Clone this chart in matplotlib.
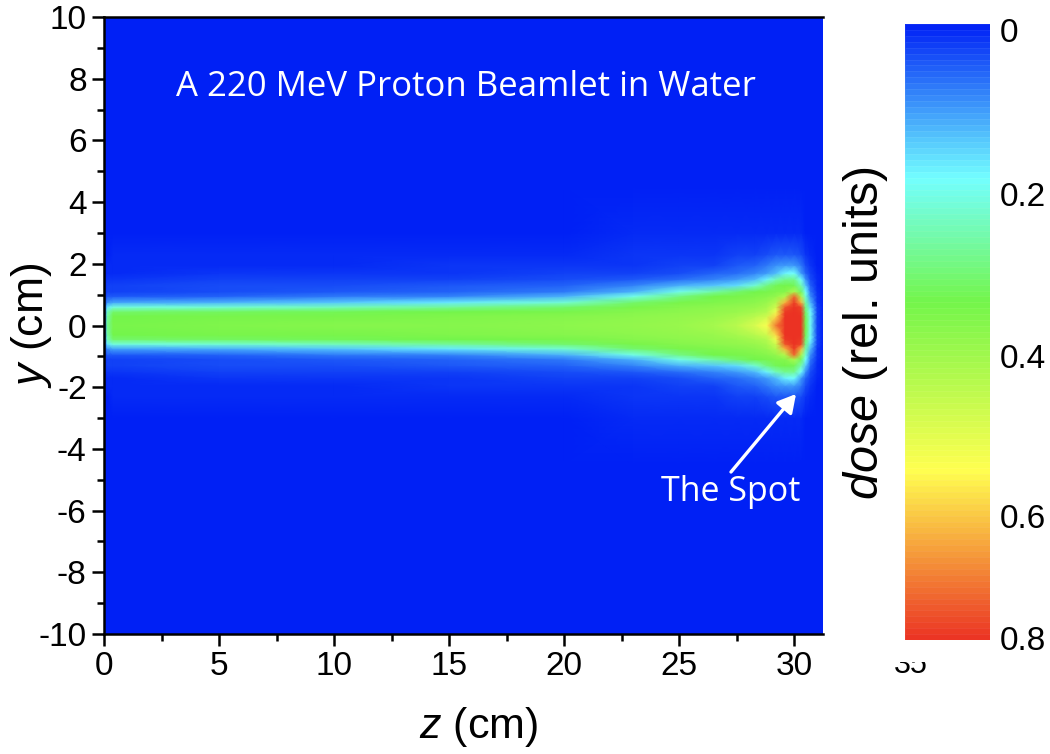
import matplotlib
matplotlib.use("Agg")
import matplotlib.pyplot as plt
import numpy as np
from matplotlib.colors import LinearSegmentedColormap
from matplotlib.transforms import Bbox

W, H = 1050, 754

# Dose: rows are |y| (cm), columns are z (cm)
z_cm = [0.0, 0.15, 0.4, 5, 10, 15, 20, 23, 25, 26.5, 27.5, 28.3, 28.8, 29.2, 29.6, 30.0, 30.3, 30.5, 30.7, 31.0, 31.25]
y_abs = [0.0, 0.3, 0.45, 0.6, 0.75, 0.95, 1.1, 1.3, 1.5, 1.7, 1.95, 2.3, 3.0, 4.5, 10.0]
dose_rows = [
    [0.05, 0.30, 0.37, 0.38, 0.39, 0.39, 0.40, 0.41, 0.42, 0.44, 0.47, 0.52, 0.57, 0.72, 0.80, 0.80, 0.80, 0.36, 0.21, 0.03, 0.00],
    [0.05, 0.28, 0.36, 0.37, 0.37, 0.38, 0.39, 0.40, 0.41, 0.42, 0.44, 0.47, 0.50, 0.62, 0.80, 0.80, 0.80, 0.35, 0.21, 0.03, 0.00],
    [0.045, 0.26, 0.33, 0.34, 0.35, 0.36, 0.37, 0.39, 0.40, 0.41, 0.42, 0.44, 0.46, 0.55, 0.79, 0.80, 0.79, 0.33, 0.20, 0.03, 0.00],
    [0.04, 0.18, 0.23, 0.24, 0.26, 0.29, 0.33, 0.37, 0.39, 0.40, 0.41, 0.42, 0.44, 0.50, 0.76, 0.80, 0.78, 0.31, 0.17, 0.03, 0.00],
    [0.03, 0.10, 0.12, 0.13, 0.15, 0.18, 0.24, 0.33, 0.37, 0.38, 0.39, 0.40, 0.42, 0.46, 0.66, 0.79, 0.66, 0.28, 0.14, 0.02, 0.00],
    [0.02, 0.05, 0.05, 0.06, 0.08, 0.09, 0.13, 0.22, 0.31, 0.36, 0.37, 0.38, 0.39, 0.41, 0.46, 0.74, 0.45, 0.24, 0.10, 0.02, 0.00],
    [0.015, 0.03, 0.03, 0.04, 0.05, 0.06, 0.08, 0.13, 0.22, 0.28, 0.33, 0.36, 0.37, 0.38, 0.39, 0.45, 0.34, 0.20, 0.08, 0.015, 0.00],
    [0.01, 0.03, 0.03, 0.04, 0.04, 0.05, 0.06, 0.09, 0.13, 0.15, 0.17, 0.24, 0.31, 0.35, 0.36, 0.35, 0.27, 0.15, 0.06, 0.01, 0.00],
    [0.01, 0.02, 0.02, 0.03, 0.03, 0.03, 0.04, 0.05, 0.07, 0.09, 0.11, 0.14, 0.19, 0.26, 0.30, 0.30, 0.20, 0.10, 0.04, 0.01, 0.00],
    [0.00, 0.01, 0.01, 0.02, 0.02, 0.02, 0.03, 0.03, 0.04, 0.06, 0.07, 0.09, 0.11, 0.14, 0.19, 0.20, 0.11, 0.06, 0.03, 0.005, 0.00],
    [0.00, 0.01, 0.01, 0.01, 0.01, 0.02, 0.02, 0.02, 0.03, 0.03, 0.05, 0.06, 0.08, 0.10, 0.11, 0.11, 0.08, 0.04, 0.02, 0.00, 0.00],
    [0.00, 0.00, 0.01, 0.01, 0.01, 0.01, 0.01, 0.02, 0.02, 0.02, 0.03, 0.03, 0.04, 0.05, 0.05, 0.05, 0.04, 0.02, 0.01, 0.00, 0.00],
    [0.00, 0.00, 0.00, 0.00, 0.00, 0.00, 0.00, 0.01, 0.01, 0.01, 0.01, 0.01, 0.01, 0.01, 0.01, 0.01, 0.01, 0.00, 0.00, 0.00, 0.00],
    [0.00, 0.00, 0.00, 0.00, 0.00, 0.00, 0.00, 0.00, 0.00, 0.00, 0.00, 0.00, 0.00, 0.00, 0.00, 0.00, 0.00, 0.00, 0.00, 0.00, 0.00],
    [0.00, 0.00, 0.00, 0.00, 0.00, 0.00, 0.00, 0.00, 0.00, 0.00, 0.00, 0.00, 0.00, 0.00, 0.00, 0.00, 0.00, 0.00, 0.00, 0.00, 0.00],
]
cmap_stops = [0.0, 0.2, 0.36, 0.58, 0.8]
cmap_colors = ["#0020f5", "#73ffff", "#73f54b", "#ffff50", "#eb3223"]
z_ticks = [0, 5, 10, 15, 20, 25, 30]
y_ticks = [-10, -8, -6, -4, -2, 0, 2, 4, 6, 8, 10]
cbar_ticks = ["0", "0.2", "0.4", "0.6", "0.8"]
cbar_label_px = [34, 197, 360, 520, 642]

plt.rcParams["font.family"] = ["Liberation Sans", "DejaVu Sans"]
plt.rcParams["axes.unicode_minus"] = False
plt.rcParams["mathtext.fontset"] = "custom"
plt.rcParams["mathtext.it"] = "Liberation Sans:italic"
fig = plt.figure(figsize=(W / 100, H / 100), dpi=100)


def box(l, t, r, b):
    return [l / W, 1 - b / H, (r - l) / W, (b - t) / H]


cmap = LinearSegmentedColormap.from_list(
    "dose", [(s / 0.8, c) for s, c in zip(cmap_stops, cmap_colors)], N=512
)

ax = fig.add_axes(box(104, 17, 823, 634))
z = np.array(z_cm)
ya = np.array(y_abs)
d = np.array(dose_rows)
yy = np.concatenate([-ya[:0:-1], ya])
dd = np.vstack([d[:0:-1], d])
ax.pcolormesh(z, yy, dd, cmap=cmap, vmin=0, vmax=0.8, shading="gouraud", rasterized=True)
ax.set_xlim(0, 31.25)
ax.set_ylim(-10, 10)
ax.set_xticks(z_ticks)
ax.set_yticks(y_ticks)
ax.set_xticks(np.arange(2.5, 31, 5), minor=True)
ax.set_yticks(np.arange(-9, 10, 2), minor=True)
ax.tick_params(which="major", length=8.5, width=1.8, labelsize=24, pad=4)
ax.tick_params(which="minor", length=5, width=1.8)
for side in ["left", "bottom", "top"]:
    ax.spines[side].set_linewidth(1.8)
ax.spines["right"].set_visible(False)
fig.text(478 / W, 1 - 727 / H, r"$\mathit{z}$ (cm)", fontsize=31, ha="center", va="center")
fig.text(31 / W, 1 - 325 / H, r"$\mathit{y}$ (cm)", fontsize=32, rotation=90, ha="center", va="center")

fig.text(466 / W, 1 - 87 / H, "A 220 MeV Proton Beamlet in Water", color="white",
         fontsize=25, family="Open Sans", ha="center", va="center")
fig.text(731 / W, 1 - 492 / H, "The Spot", color="white", fontsize=24.5,
         family="Open Sans", ha="center", va="center")
ax.annotate("", xy=(796 / W, 1 - 394 / H), xytext=(731 / W, 1 - 472 / H),
            xycoords="figure fraction", textcoords="figure fraction",
            arrowprops=dict(arrowstyle="-|>,head_length=0.45,head_width=0.25", color="white",
                            lw=2.4, mutation_scale=24, shrinkA=0, shrinkB=0))

cax = fig.add_axes(box(905, 24, 990, 640))
levels = np.linspace(0, 0.8, 105)[:, None]
cax.pcolormesh([0, 1], levels[:, 0], (levels[:-1] + levels[1:]) / 2, cmap=cmap,
               vmin=0, vmax=0.8, edgecolors=(1, 1, 1, 0.06), linewidth=0.6)
cax.set_ylim(0.8, 0)
cax.axis("off")
for lab, py in zip(cbar_ticks, cbar_label_px):
    fig.text(1000 / W, 1 - py / H, lab, fontsize=24, ha="left", va="center")
fig.text(866 / W, 1 - 333 / H, r"$\mathit{dose}$ (rel. units)", fontsize=35, rotation=90,
         ha="center", va="center")

t = fig.text(911 / W, 1 - 665 / H, "35", fontsize=22, ha="center", va="center")
t.set_clip_box(Bbox([[880, H - 680], [940, H - 662]]))
t.set_clip_on(True)

fig.savefig("out.png", dpi=100)
